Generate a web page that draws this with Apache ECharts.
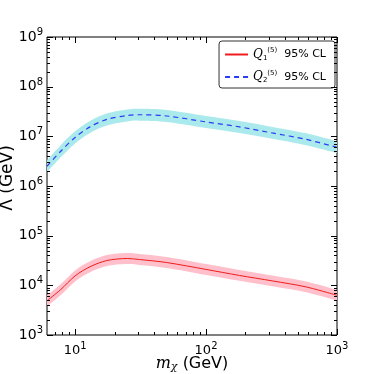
<!DOCTYPE html>
<html>
<head>
<meta charset="utf-8">
<script src="https://cdn.jsdelivr.net/npm/echarts@6/dist/echarts.min.js"></script>
<style>
html, body { margin: 0; padding: 0; background: #fff; }
#main { width: 374px; height: 374px; }
</style>
</head>
<body>
<div id="main"></div>
<script>
// dark matter mass (GeV)
var massGeV = [6.1, 7.7, 10, 13, 17.5, 25, 31, 50, 100, 180, 320, 580, 1000];

// Q1(5) 95% CL limit and its band
var q1Limit = [4900, 8050, 15500, 23700, 31600, 34700, 33100, 28800, 20900, 15800, 12300, 9300, 6300];
var q1Upper = [6300, 10400, 20000, 30500, 40700, 44700, 42700, 37200, 26900, 20400, 15800, 12000, 8100];
var q1Lower = [3800, 6250, 12000, 18400, 24500, 26900, 25700, 22400, 16200, 12300, 9550, 7240, 4900];

// Q2(5) 95% CL limit and its band
var q2Limit = [2.5e6, 4.9e6, 9.5e6, 1.55e7, 2.19e7, 2.63e7, 2.72e7, 2.57e7, 1.95e7, 1.55e7, 1.17e7, 8.7e6, 6.0e6];
var q2Upper = [3.3e6, 6.5e6, 1.26e7, 2.04e7, 2.88e7, 3.47e7, 3.59e7, 3.39e7, 2.57e7, 2.04e7, 1.55e7, 1.15e7, 7.9e6];
var q2Lower = [1.9e6, 3.7e6, 7.2e6, 1.17e7, 1.66e7, 2.0e7, 2.07e7, 1.95e7, 1.48e7, 1.17e7, 8.9e6, 6.6e6, 4.6e6];

var xMin = 6.1, xMax = 1000;
var yMin = 1e3, yMax = 1e9;
var xDecades = [0, 1, 2];        // decades for tick marks
var yDecades = [3, 4, 5, 6, 7, 8];

var myChart = echarts.init(document.getElementById('main'));

function zip(xs, ys) {
    var out = [];
    for (var i = 0; i < xs.length; i++) out.push([xs[i], ys[i]]);
    return out;
}

function powLabel(v) {
    var e = Math.log10(v);
    if (Math.abs(e - Math.round(e)) > 1e-6) return '';
    return '10{s|' + Math.round(e) + '}';
}

// catmull-rom style bezier through pixel points
function curvePath(pts, first) {
    var d = first ? 'M' + pts[0][0] + ',' + pts[0][1] : 'L' + pts[0][0] + ',' + pts[0][1];
    var n = pts.length;
    for (var i = 0; i < n - 1; i++) {
        var p0 = pts[Math.max(i - 1, 0)], p1 = pts[i], p2 = pts[i + 1], p3 = pts[Math.min(i + 2, n - 1)];
        var c1x = p1[0] + (p2[0] - p0[0]) / 6, c1y = p1[1] + (p2[1] - p0[1]) / 6;
        var c2x = p2[0] - (p3[0] - p1[0]) / 6, c2y = p2[1] - (p3[1] - p1[1]) / 6;
        d += 'C' + c1x + ',' + c1y + ',' + c2x + ',' + c2y + ',' + p2[0] + ',' + p2[1];
    }
    return d;
}

function bandRenderer(upper, lower, color) {
    return function (params, api) {
        if (params.dataIndex !== 0) return null;
        var up = [], lo = [];
        for (var i = 0; i < massGeV.length; i++) up.push(api.coord([massGeV[i], upper[i]]));
        for (var j = massGeV.length - 1; j >= 0; j--) lo.push(api.coord([massGeV[j], lower[j]]));
        return {
            type: 'path',
            shape: { pathData: curvePath(up, true) + curvePath(lo, false) + 'Z' },
            style: { fill: color, stroke: null }
        };
    };
}

// tick marks on all four sides, pointing inward
function tickList(decades, lo, hi) {
    var list = [];
    decades.forEach(function (d) {
        for (var k = 1; k <= 9; k++) {
            var v = k * Math.pow(10, d);
            if (v >= lo * 0.999 && v <= hi * 1.001) list.push({ v: v, major: k === 1 });
        }
    });
    var top = Math.pow(10, decades[decades.length - 1] + 1);
    if (top <= hi * 1.001) list.push({ v: top, major: true });
    return list;
}

function renderTicks(params, api) {
    var cs = params.coordSys;
    var kids = [];
    var st = { stroke: '#000', lineWidth: 1 };
    tickList(xDecades, xMin, xMax).forEach(function (t) {
        var px = Math.round(api.coord([t.v, yMin])[0]) + 0.5;
        var len = t.major ? 6 : 3;
        kids.push({ type: 'line', shape: { x1: px, y1: cs.y + cs.height, x2: px, y2: cs.y + cs.height - len }, style: st });
        kids.push({ type: 'line', shape: { x1: px, y1: cs.y, x2: px, y2: cs.y + len }, style: st });
    });
    tickList(yDecades, yMin, yMax).forEach(function (t) {
        var py = Math.round(api.coord([xMin, t.v])[1]) + 0.5;
        var len = t.major ? 6 : 3;
        kids.push({ type: 'line', shape: { x1: cs.x, y1: py, x2: cs.x + len, y2: py }, style: st });
        kids.push({ type: 'line', shape: { x1: cs.x + cs.width, y1: py, x2: cs.x + cs.width - len, y2: py }, style: st });
    });
    return { type: 'group', children: kids };
}

var labelRich = { s: { fontSize: 10, fontFamily: 'DejaVu Sans', padding: [0, 0, 9, 0], color: '#000' } };

var option = {
    animation: false,
    backgroundColor: '#fff',
    grid: {
        left: 47, right: 37, top: 37, bottom: 39,
        outerBoundsMode: 'none',
        containLabel: false,
        show: true, borderColor: '#000', borderWidth: 1, backgroundColor: 'transparent'
    },
    legend: {
        data: ['q1', 'q2'],
        orient: 'vertical',
        right: 39,
        top: 41,
        itemWidth: 23,
        itemHeight: 10,
        itemGap: 8,
        padding: [6, 9, 4, 5],
        borderColor: '#333',
        borderWidth: 1,
        borderRadius: 3,
        backgroundColor: '#fff',
        itemStyle: { opacity: 0 },
        formatter: function (name) {
            return '{q|Q}{sub|' + (name === 'q1' ? '1' : '2') + '}{sup|(5)}  95% CL';
        },
        textStyle: {
            fontFamily: 'DejaVu Sans',
            fontSize: 11,
            color: '#000',
            rich: {
                q: { fontFamily: 'DejaVu Serif', fontStyle: 'italic', fontSize: 12, color: '#000' },
                sub: { fontSize: 7, padding: [7, 0, 0, 0], color: '#000' },
                sup: { fontSize: 7, padding: [0, 0, 8, 0], color: '#000' }
            }
        }
    },
    xAxis: {
        type: 'log',
        min: xMin,
        max: xMax,
        axisLine: { show: false },
        axisTick: { show: false },
        splitLine: { show: false },
        axisLabel: {
            formatter: powLabel,
            fontFamily: 'DejaVu Sans',
            fontSize: 13,
            color: '#000',
            margin: 6,
            showMinLabel: false,
            rich: labelRich
        },
        name: '{i|m}{sb|χ} (GeV)',
        nameLocation: 'middle',
        nameMoveOverlap: false,
        nameGap: 20,
        nameTextStyle: {
            fontFamily: 'DejaVu Sans',
            fontSize: 16,
            color: '#000',
            rich: {
                i: { fontFamily: 'DejaVu Serif', fontStyle: 'italic', fontSize: 16, color: '#000' },
                sb: { fontFamily: 'DejaVu Serif', fontStyle: 'italic', fontSize: 11, padding: [7, 0, 0, 0], color: '#000' }
            }
        }
    },
    yAxis: {
        type: 'log',
        min: yMin,
        max: yMax,
        axisLine: { show: false },
        axisTick: { show: false },
        splitLine: { show: false },
        axisLabel: {
            formatter: powLabel,
            fontFamily: 'DejaVu Sans',
            fontSize: 14,
            color: '#000',
            margin: 4,
            rich: labelRich
        },
        name: 'Λ (GeV)',
        nameLocation: 'middle',
        nameMoveOverlap: false,
        nameGap: 31,
        nameRotate: 90,
        nameTextStyle: { fontFamily: 'DejaVu Sans', fontSize: 17, color: '#000', padding: [0, 0, 0, 16] }
    },
    series: [
        {
            name: 'q2band', type: 'custom', clip: true, z: 1,
            renderItem: bandRenderer(q2Upper, q2Lower, '#aae9ec'),
            data: zip(massGeV, q2Limit)
        },
        {
            name: 'q1band', type: 'custom', clip: true, z: 1,
            renderItem: bandRenderer(q1Upper, q1Lower, '#ffc0cb'),
            data: zip(massGeV, q1Limit)
        },
        {
            name: 'q1', type: 'line', smooth: 0.3, symbol: 'none', z: 3,
            lineStyle: { color: '#f01c1c', width: 1 },
            itemStyle: { color: '#f01c1c' },
            data: zip(massGeV, q1Limit)
        },
        {
            name: 'q2', type: 'line', smooth: 0.3, symbol: 'none', z: 3,
            lineStyle: { color: '#2b3cf5', width: 1.2, type: [5, 4] },
            itemStyle: { color: '#2b3cf5' },
            data: zip(massGeV, q2Limit)
        },
        {
            name: 'ticks', type: 'custom', z: 5, silent: true,
            renderItem: renderTicks,
            data: [[10, 1e4]]
        }
    ]
};

myChart.setOption(option);
</script>
</body>
</html>
